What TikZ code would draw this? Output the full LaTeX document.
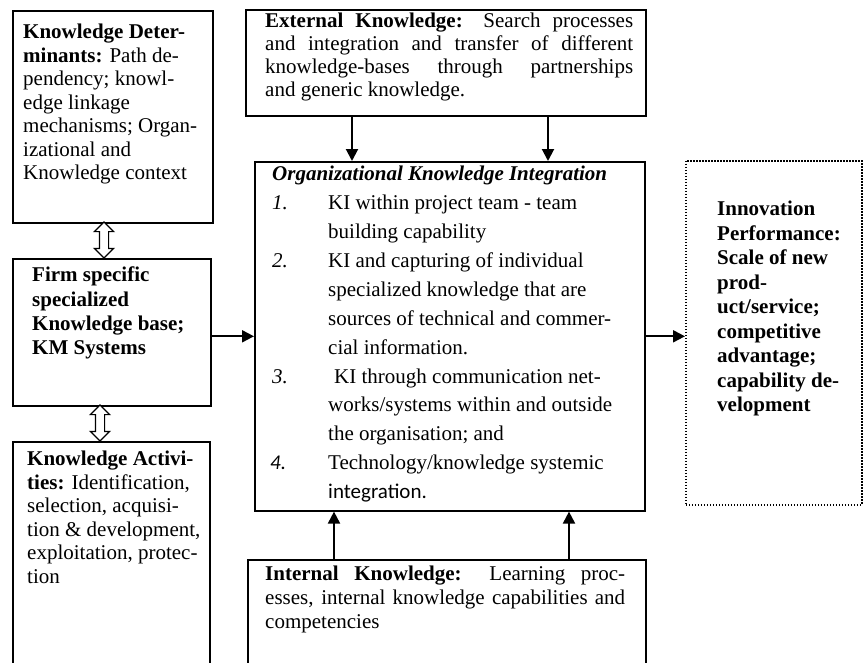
\documentclass[tikz,border=0pt]{standalone}
\usepackage{fontspec}
\setmainfont{Liberation Serif}
\newfontfamily\carlitofont{Carlito}
\usetikzlibrary{arrows.meta,shapes.arrows}
\begin{document}
\begin{tikzpicture}[x=1pt,y=-1pt,
  box/.style={draw, line width=1.6pt, anchor=north west, inner sep=0pt},
  dotbox/.style={draw, line width=1.6pt, dash pattern=on 1.5pt off 1.5pt, anchor=north west, inner sep=0pt},
  txt/.style={anchor=north west, inner sep=0pt, align=left},
  lft/.style={font=\fontsize{21pt}{23.5pt}\selectfont},
  conn/.style={line width=2pt, -{Triangle[length=12pt,width=12pt]}},
  dbl/.style={draw, line width=1.2pt, double arrow, rotate=90, minimum height=36pt,
    inner sep=4pt, double arrow head extend=5pt, fill=white}]
\useasboundingbox (0,0) rectangle (863,662);

% boxes
\node[box, minimum width=200pt, minimum height=212pt] (kd) at (12,10) {};
\node[box, minimum width=198pt, minimum height=147pt] (firm) at (12,258) {};
\node[box, minimum width=197pt, minimum height=230pt] (act) at (12,441) {};
\node[box, minimum width=400pt, minimum height=106pt] (ek) at (245,9) {};
\node[box, minimum width=390pt, minimum height=349pt] (central) at (254,161) {};
\node[box, minimum width=398pt, minimum height=120pt] (int) at (247,559) {};
\node[dotbox, minimum width=176pt, minimum height=344pt] (innov) at (685,160) {};

% texts
\node[txt, lft] (kdt) at (23,24) {\textbf{Knowledge Deter-}\\
\textbf{minants:} Path de-\\
pendency; knowl-\\
edge linkage\\
mechanisms; Organ-\\
izational and\\
Knowledge context};

\node[txt, font=\fontsize{21pt}{24.3pt}\selectfont\bfseries] (firmt) at (32,267) {Firm specific\\
specialized\\
Knowledge base;\\
KM Systems};

\node[txt, lft] (actt) at (27,451) {\textbf{Knowledge Activi-}\\
\textbf{ties:} Identification,\\
selection, acquisi-\\
tion \& development,\\
exploitation, protec-\\
tion};

\node[txt, font=\fontsize{21pt}{23pt}\selectfont] (ekt) at (265,13) {\makebox[368pt][s]{\textbf{External Knowledge:} Search processes}\\
\makebox[368pt][s]{and integration and transfer of different}\\
\makebox[368pt][s]{knowledge-bases through partnerships}\\
and generic knowledge.};

\node[txt, font=\fontsize{21pt}{28.9pt}\selectfont] (ct) at (272,166) {\textbf{\textit{Organizational Knowledge Integration}}\\
\makebox[56pt][l]{\textit{1.}}KI within project team - team\\
\hspace*{56pt}building capability\\
\makebox[56pt][l]{\textit{2.}}KI and capturing of individual\\
\hspace*{56pt}specialized knowledge that are\\
\hspace*{56pt}sources of technical and commer-\\
\hspace*{56pt}cial information.\\
\makebox[56pt][l]{\textit{3.}}\hspace*{6pt}KI through communication net-\\
\hspace*{56pt}works/systems within and outside\\
\hspace*{56pt}the organisation; and\\
\hspace*{-2pt}\makebox[58pt][l]{\carlitofont\itshape 4.}Technology/knowledge systemic\\
\hspace*{56pt}{\carlitofont integration.}};

\node[txt, font=\fontsize{21pt}{24.5pt}\selectfont\bfseries] (innovt) at (717,201) {Innovation\\
Performance:\\
Scale of new\\
prod-\\
uct/service;\\
competitive\\
advantage;\\
capability de-\\
velopment};

\node[txt, font=\fontsize{21pt}{24pt}\selectfont] (intt) at (265,566) {\makebox[360pt][s]{\textbf{Internal Knowledge:} Learning proc-}\\
\makebox[360pt][s]{esses, internal knowledge capabilities and}\\
competencies};

% double arrows between left boxes
\node[dbl] (da1) at (104,240) {};
\node[dbl] (da2) at (100,423) {};

% connectors
\coordinate (xa) at (352,0);
\coordinate (xb) at (548,0);
\coordinate (xc) at (334,0);
\coordinate (xd) at (569,0);
\draw[conn] (ek.south -| xa) -- (central.north -| xa);
\draw[conn] (ek.south -| xb) -- (central.north -| xb);
\draw[conn] (int.north -| xc) -- (central.south -| xc);
\draw[conn] (int.north -| xd) -- (central.south -| xd);
\draw[conn] (central.west -| firm.east) -- (central.west);
\draw[conn] (central.east) -- (central.east -| innov.west);
\end{tikzpicture}
\end{document}
